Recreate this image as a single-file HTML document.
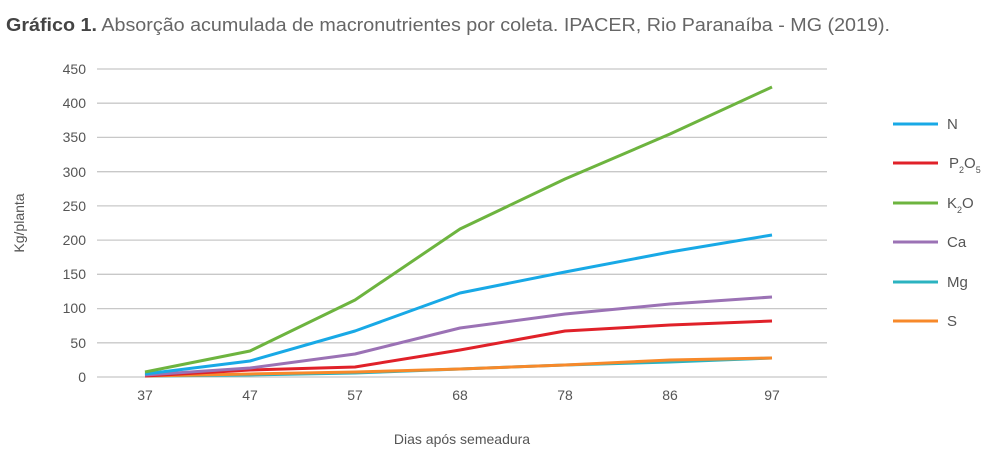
<!DOCTYPE html>
<html><head><meta charset="utf-8"><style>
body{margin:0;background:#fff;width:997px;height:457px;overflow:hidden}
</style></head><body>
<svg width="997" height="457" xmlns="http://www.w3.org/2000/svg" font-family="Liberation Sans, sans-serif">
<text x="6" y="31" font-size="18" fill="#666" textLength="884" lengthAdjust="spacingAndGlyphs"><tspan font-weight="bold" fill="#444">Gráfico 1.</tspan> Absorção acumulada de macronutrientes por coleta. IPACER, Rio Paranaíba -  MG (2019).</text>
<g stroke="#c8c8c8" stroke-width="1.3">
<line x1="97" x2="827" y1="69" y2="69"/><line x1="97" x2="827" y1="103.2" y2="103.2"/>
<line x1="97" x2="827" y1="137.4" y2="137.4"/><line x1="97" x2="827" y1="171.7" y2="171.7"/>
<line x1="97" x2="827" y1="205.9" y2="205.9"/><line x1="97" x2="827" y1="240.1" y2="240.1"/>
<line x1="97" x2="827" y1="274.3" y2="274.3"/><line x1="97" x2="827" y1="308.6" y2="308.6"/>
<line x1="97" x2="827" y1="342.8" y2="342.8"/><line x1="97" x2="827" y1="377" y2="377"/>
</g>
<g font-size="14" fill="#555" text-anchor="end">
<text x="86" y="74">450</text><text x="86" y="108">400</text><text x="86" y="142">350</text>
<text x="86" y="177">300</text><text x="86" y="211">250</text><text x="86" y="245">200</text>
<text x="86" y="279">150</text><text x="86" y="313">100</text><text x="86" y="348">50</text>
<text x="86" y="382">0</text></g>
<g font-size="14" fill="#555" text-anchor="middle">
<text x="145" y="400">37</text><text x="250" y="400">47</text><text x="355" y="400">57</text>
<text x="460" y="400">68</text><text x="565" y="400">78</text><text x="670" y="400">86</text>
<text x="772" y="400">97</text>
<text x="462" y="444">Dias após semeadura</text>
<text transform="translate(24,223) rotate(-90)">Kg/planta</text></g>
<g fill="none" stroke-width="3" stroke-linejoin="round">
<polyline stroke="#2bb3c0" points="145,376 250,375 355,373 460,369 565,365 670,362 772,358"/>
<polyline stroke="#f7892a" points="145,376 250,374 355,372 460,369 565,365 670,360 772,358"/>
<polyline stroke="#e02129" points="145,376 250,370 355,367 460,350 565,331 670,325 772,321"/>
<polyline stroke="#9b72b5" points="145,375 250,368 355,354 460,328 565,314 670,304 772,297"/>
<polyline stroke="#18a9e6" points="145,374 250,361 355,331 460,293 565,272 670,252 772,235"/>
<polyline stroke="#6db43f" points="145,372 250,351 355,300 460,229 565,179 670,134 772,87"/>
</g>
<g stroke-width="3">
<line x1="893" x2="938" y1="124" y2="124" stroke="#18a9e6"/>
<line x1="893" x2="938" y1="163" y2="163" stroke="#e02129"/>
<line x1="893" x2="938" y1="203" y2="203" stroke="#6db43f"/>
<line x1="893" x2="938" y1="242" y2="242" stroke="#9b72b5"/>
<line x1="893" x2="938" y1="282" y2="282" stroke="#2bb3c0"/>
<line x1="893" x2="938" y1="321" y2="321" stroke="#f7892a"/>
</g>
<g font-size="15" fill="#555">
<text x="947" y="129">N</text>
<text x="949" y="168">P<tspan font-size="9" dy="5">2</tspan><tspan dy="-5">O</tspan><tspan font-size="9" dy="5">5</tspan></text>
<text x="947" y="208">K<tspan font-size="9" dy="5">2</tspan><tspan dy="-5">O</tspan></text>
<text x="947" y="247">Ca</text>
<text x="947" y="287">Mg</text>
<text x="947" y="326">S</text>
</g>
</svg>
</body></html>
